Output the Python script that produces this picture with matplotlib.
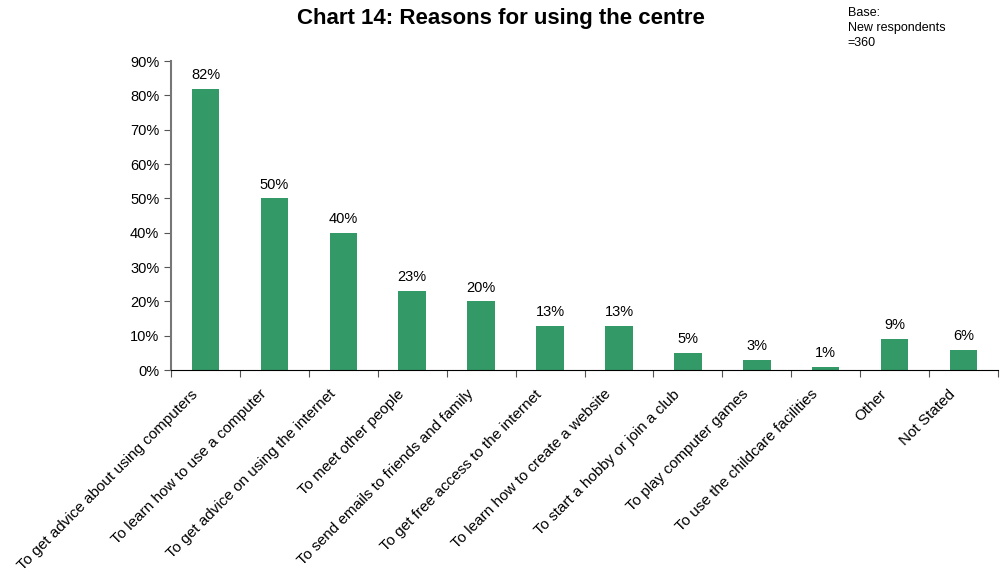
import matplotlib
matplotlib.use("Agg")
import matplotlib.pyplot as plt
import matplotlib.transforms as mtransforms
import numpy as np

plt.rcParams['font.family'] = ['Liberation Sans', 'DejaVu Sans']

razones = [
    "To get advice about using computers",
    "To learn how to use a computer",
    "To get advice on using the internet",
    "To meet other people",
    "To send emails to friends and family",
    "To get free access to the internet",
    "To learn how to create a website",
    "To start a hobby or join a club",
    "To play computer games",
    "To use the childcare facilities",
    "Other",
    "Not Stated",
]
porcentajes = [82, 50, 40, 23, 20, 13, 13, 5, 3, 1, 9, 6]
yticks = [0, 10, 20, 30, 40, 50, 60, 70, 80, 90]

fig = plt.figure(figsize=(10.02, 5.73), dpi=100)
ax = fig.add_axes([0.1707, 0.354, 0.8253, 0.5395])

x = np.arange(len(razones))
ax.bar(x, porcentajes, width=0.4, color="#339966")

for xi, v in zip(x, porcentajes):
    ax.text(xi, v + 2, f"{v}%", ha="center", va="bottom", fontsize=10.5)

ax.set_xlim(-0.5, len(razones) - 0.5)
ax.set_ylim(0, 90)
ax.set_yticks(yticks)
ax.set_yticklabels([f"{t}%" for t in yticks], fontsize=10.5)

# ticks between categories; category names drawn under each bar
ax.set_xticks(np.arange(len(razones) + 1) - 0.5)
ax.set_xticklabels([])
desplaza = mtransforms.ScaledTranslation(-0.15, -0.17, fig.dpi_scale_trans)
trans = ax.get_xaxis_transform() + desplaza
for xi, nombre in zip(x, razones):
    ax.text(xi, 0, nombre, transform=trans, rotation=45, ha="right", va="top",
            rotation_mode="anchor", fontsize=11, clip_on=False)
ax.tick_params(axis="x", which="major", length=5, color="#555555")
ax.tick_params(axis="y", length=5, color="#555555")

ax.spines["top"].set_visible(False)
ax.spines["right"].set_visible(False)
ax.spines["left"].set_color("#777777")
ax.spines["left"].set_linewidth(1.5)
ax.spines["bottom"].set_color("black")

fig.text(0.5, 0.968, "Chart 14: Reasons for using the centre", ha="center",
         va="center", fontsize=16, fontweight="bold")
fig.text(0.846, 0.988, "Base:\nNew respondents\n=360", ha="left", va="top",
         fontsize=9, linespacing=1.35)

fig.savefig("out.png", dpi=100)
